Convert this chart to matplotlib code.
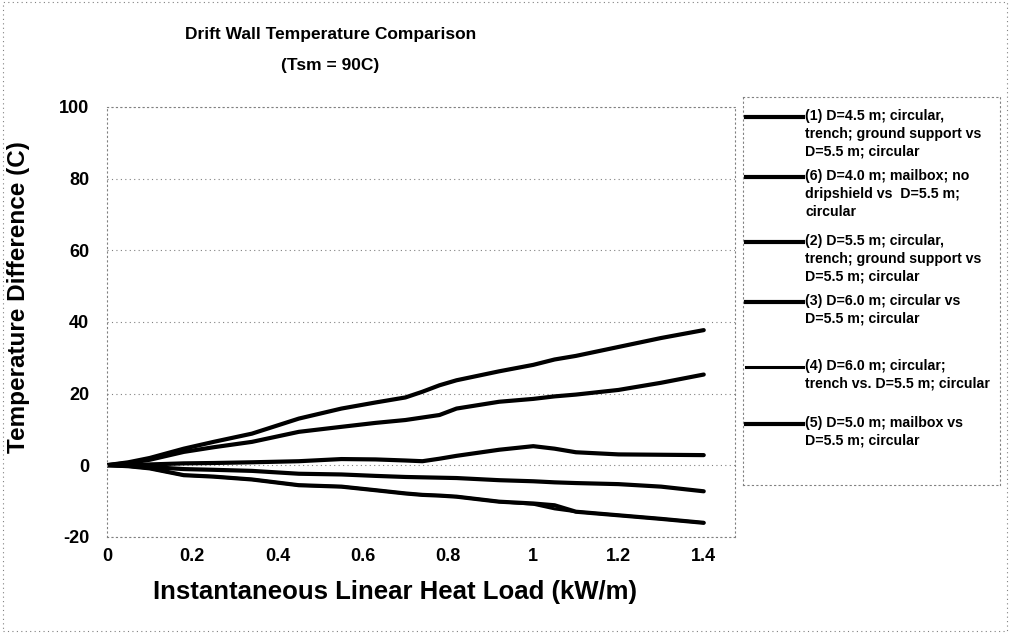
import matplotlib
matplotlib.use("Agg")
import matplotlib.pyplot as plt

plt.rcParams['font.family'] = ['Liberation Sans', 'DejaVu Sans']
plt.rcParams['font.weight'] = 'bold'
plt.rcParams['axes.unicode_minus'] = False

# heat load (kW/m) and temperature differences (C)
load = [0, 0.05, 0.1, 0.18, 0.25, 0.34, 0.45, 0.55, 0.63, 0.70, 0.74, 0.78, 0.82,
        0.92, 1.0, 1.05, 1.1, 1.2, 1.3, 1.4]

s1 = [0, 0.8, 2, 4.6, 6.5, 8.8, 13, 15.8, 17.5, 18.9, 20.5, 22.3, 23.7,
      26.2, 28, 29.5, 30.5, 33, 35.5, 37.7]
s6 = [0, 0.6, 1.5, 3.7, 5, 6.5, 9.3, 10.7, 11.8, 12.6, 13.3, 14, 15.8,
      17.7, 18.5, 19.2, 19.7, 21, 23, 25.3]
s2 = [0, 0, 0.2, 0.5, 0.6, 0.8, 1.1, 1.7, 1.6, 1.3, 1.1, 1.8, 2.6,
      4.3, 5.3, 4.6, 3.6, 3, 2.9, 2.8]
s3 = [0, -0.2, -0.5, -1.1, -1.3, -1.6, -2.4, -2.6, -3, -3.3, -3.4, -3.5, -3.6,
      -4.2, -4.5, -4.8, -5, -5.3, -6, -7.3]
s4 = [0, -0.3, -0.9, -2.8, -3.2, -4, -5.6, -6, -7, -7.9, -8.3, -8.5, -8.8,
      -10.2, -10.9, -12.2, -13, -14, -15, -16.1]
s5 = [0, -0.3, -0.9, -2.8, -3.2, -4, -5.6, -6, -7, -7.9, -8.3, -8.5, -8.8,
      -10.2, -10.7, -11.2, -13, -14, -15, -16.1]

labels = [
    "(1) D=4.5 m; circular,\ntrench; ground support vs\nD=5.5 m; circular",
    "(6) D=4.0 m; mailbox; no\ndripshield vs  D=5.5 m;\ncircular",
    "(2) D=5.5 m; circular,\ntrench; ground support vs\nD=5.5 m; circular",
    "(3) D=6.0 m; circular vs\nD=5.5 m; circular",
    "(4) D=6.0 m; circular;\ntrench vs. D=5.5 m; circular",
    "(5) D=5.0 m; mailbox vs\nD=5.5 m; circular",
]
series = [s1, s6, s2, s3, s4, s5]
widths = [3, 3, 3, 3, 2.2, 3]

fig = plt.figure(figsize=(10.1, 6.33), dpi=100)
ax = fig.add_axes([0.106, 0.152, 0.622, 0.679])

for ys, w in zip(series, widths):
    ax.plot(load, ys, color="black", linewidth=w, solid_capstyle="round",
            solid_joinstyle="round")

ax.set_xlim(0, 1.474)
ax.set_ylim(-20, 100)
ax.set_xticks([0, 0.2, 0.4, 0.6, 0.8, 1.0, 1.2, 1.4])
ax.set_xticklabels(["0", "0.2", "0.4", "0.6", "0.8", "1", "1.2", "1.4"])
ax.set_yticks(range(-20, 101, 20))
ax.tick_params(labelsize=13, length=0)
ax.tick_params(axis="y", pad=13)
ax.tick_params(axis="x", pad=8)
ax.grid(axis="y", color="gray", linestyle=(0, (1, 3)), linewidth=0.8)
for sp in ax.spines.values():
    sp.set_color("gray")
    sp.set_linestyle((0, (1, 3)))
    sp.set_linewidth(0.8)

fig.text(0.391, 0.065, "Instantaneous Linear Heat Load (kW/m)", ha="center", va="center",
         fontsize=18.5, fontweight="bold")
fig.text(0.018, 0.53, "Temperature Difference (C)", ha="center", va="center",
         rotation=90, fontsize=17.5, fontweight="bold")
fig.text(0.327, 0.945, "Drift Wall Temperature Comparison", ha="center", va="center",
         fontsize=12.5, fontweight="bold")
fig.text(0.327, 0.897, "(Tsm = 90C)", ha="center", va="center", fontsize=12.5, fontweight="bold")

# legend panel, laid out in pixel units of the figure
lg = fig.add_axes([743 / 1010, 1 - 485 / 633, 257 / 1010, 388 / 633])
lg.set_xlim(743, 1000)
lg.set_ylim(485, 97)
lg.set_xticks([])
lg.set_yticks([])
for sp in lg.spines.values():
    sp.set_color("gray")
    sp.set_linestyle((0, (1, 3)))
    sp.set_linewidth(0.8)
entry_y = [117, 177, 242, 302, 367, 424]
for ey, lab, w in zip(entry_y, labels, widths):
    lg.plot([746, 803], [ey, ey], color="black", linewidth=w)
    lg.text(805, ey - 8, lab, ha="left", va="top", fontsize=10.2, fontweight="bold",
            linespacing=1.35)

border = plt.Rectangle((0.003, 0.003), 0.994, 0.994, transform=fig.transFigure,
                       fill=False, edgecolor="gray", linestyle=(0, (1, 3)), linewidth=0.8)
fig.patches.append(border)

fig.savefig("out.png", dpi=100)
